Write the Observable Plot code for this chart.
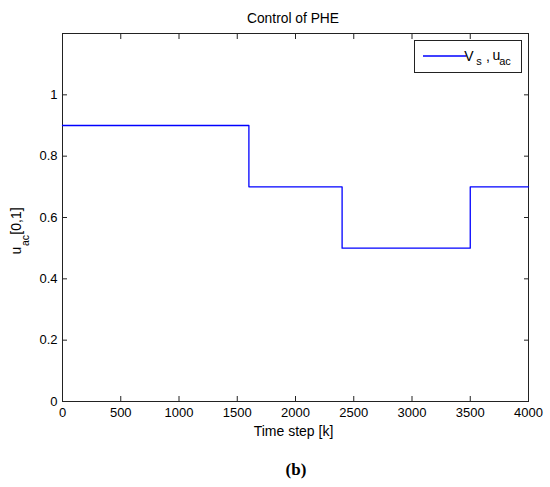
<!DOCTYPE html>
<html>
<head>
<meta charset="utf-8">
<script src="https://cdn.jsdelivr.net/npm/d3@7"></script>
<script src="https://cdn.jsdelivr.net/npm/@observablehq/plot@0.6"></script>
<style>
  html, body { margin: 0; padding: 0; background: #fff; }
  #chart { width: 550px; height: 487px; }
</style>
</head>
<body>
<div id="chart"></div>
<script>
// Data
const stepK = [0, 1600, 2400, 3500, 4000];
const stepU = [0.9, 0.7, 0.5, 0.7, 0.7];
const xTicks = [0, 500, 1000, 1500, 2000, 2500, 3000, 3500, 4000];
const yTicks = [0, 0.2, 0.4, 0.6, 0.8, 1];
const titleText = "Control of PHE";
const xLabelText = "Time step [k]";
const captionText = "(b)";

const data = stepK.map((k, i) => ({k, u: stepU[i]}));

const font = "'Liberation Sans', Arial, Helvetica, sans-serif";

const chart = Plot.plot({
  width: 550,
  height: 487,
  marginLeft: 62,
  marginRight: 22,
  marginTop: 33,
  marginBottom: 86,
  style: {fontFamily: font, fontSize: "13px", color: "#000", background: "#fff", overflow: "visible"},
  x: {domain: [0, 4000]},
  y: {domain: [0, 1.2]},
  marks: [
    Plot.frame({stroke: "#222", strokeWidth: 1}),
    Plot.axisX(xTicks, {anchor: "bottom", tickSize: -5, tickPadding: 11, label: null, tickFormat: d => String(d), stroke: "#222"}),
    Plot.axisX(xTicks, {anchor: "top", tickSize: -5, label: null, tickFormat: () => "", stroke: "#222"}),
    Plot.axisY(yTicks, {anchor: "left", tickSize: -5, tickPadding: 10, label: null, tickFormat: d => String(d), stroke: "#222"}),
    Plot.axisY(yTicks, {anchor: "right", tickSize: -5, label: null, tickFormat: () => "", stroke: "#222"}),
    Plot.line(data, {x: "k", y: "u", curve: "step-after", stroke: "#0000ff", strokeWidth: 1.3})
  ]
});

document.getElementById("chart").appendChild(chart);

const svg = d3.select(chart);
const g = svg.append("g").attr("font-family", font).attr("font-size", 14).attr("fill", "#000");

// Title
g.append("text").attr("x", 293).attr("y", 23).attr("text-anchor", "middle").attr("font-size", 13.8).text(titleText);
// X label
g.append("text").attr("x", 293.5).attr("y", 435.5).attr("text-anchor", "middle").attr("font-size", 14).text(xLabelText);
// Y label with subscript (rotated frame: x = -screenY, y = screenX)
const yl = g.append("text").attr("transform", "rotate(-90)");
yl.append("tspan").attr("x", -250.5).attr("y", 20.5).attr("font-size", 14).text("u");
yl.append("tspan").attr("x", -240.5).attr("y", 28.5).attr("font-size", 10.5).text("ac");
yl.append("tspan").attr("x", -221).attr("y", 20.5).attr("font-size", 14).text("[0,1]");

// Legend
const lg = g.append("g");
lg.append("rect").attr("x", 414.5).attr("y", 40.5).attr("width", 107).attr("height", 32)
  .attr("fill", "#fff").attr("stroke", "#222").attr("stroke-width", 1);
lg.append("line").attr("x1", 423).attr("x2", 466.5).attr("y1", 56).attr("y2", 56)
  .attr("stroke", "#0000ff").attr("stroke-width", 1.3);
const lt = lg.append("text");
lt.append("tspan").attr("x", 469).attr("y", 61).attr("font-size", 14).text("V");
lt.append("tspan").attr("x", 479).attr("y", 64.5).attr("font-size", 11).text("s");
lt.append("tspan").attr("x", 488).attr("y", 61).attr("font-size", 14).text(",");
lt.append("tspan").attr("x", 496.5).attr("y", 60).attr("font-size", 14).text("u");
lt.append("tspan").attr("x", 505).attr("y", 65).attr("font-size", 11).text("ac");

// Caption
g.append("text").attr("x", 296).attr("y", 474.5).attr("text-anchor", "middle")
  .attr("font-family", "'Liberation Serif', 'Times New Roman', serif").attr("font-weight", "bold")
  .attr("font-size", 17).text(captionText);
</script>
</body>
</html>
